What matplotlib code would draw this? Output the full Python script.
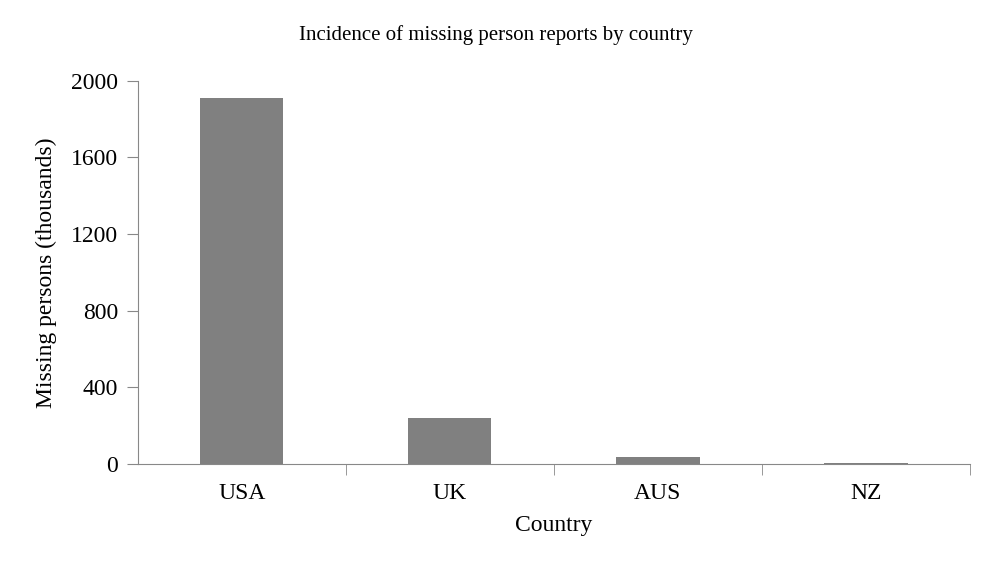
import matplotlib
matplotlib.use("Agg")
import matplotlib.pyplot as plt
import numpy as np

countries = ["USA", "UK", "AUS", "NZ"]
values = [1910, 240, 37, 6]
yticks = [0, 400, 800, 1200, 1600, 2000]

plt.rcParams['font.family'] = ['Liberation Serif', 'DejaVu Serif']
fig = plt.figure(figsize=(9.98, 5.77), dpi=100)
ax = fig.add_axes([0.138, 0.196, 0.834, 0.664])
x = np.arange(len(countries))
ax.bar(x, values, width=0.4, color="#808080")
ax.set_xlim(-0.5, len(countries) - 0.5)
ax.set_ylim(0, 2000)
ax.set_yticks(yticks)
ax.set_yticklabels([str(v) for v in yticks], fontsize=17)
ax.set_xticks(x)
ax.set_xticklabels(countries, fontsize=17)
ax.tick_params(axis='x', length=0, pad=14)
ax.set_xticks(np.arange(len(countries)) + 0.5, minor=True)
ax.tick_params(axis='x', which='minor', length=8, color="#888888")
ax.tick_params(axis='y', length=8, color="#888888", pad=6)
for s in ["top", "right"]:
    ax.spines[s].set_visible(False)
for s in ["left", "bottom"]:
    ax.spines[s].set_color("#888888")
ax.set_xlabel("Country", fontsize=17, labelpad=8)
ax.set_ylabel("Missing persons (thousands)", fontsize=17, labelpad=10)
fig.text(0.497, 0.93, "Incidence of missing person reports by country", ha="center", fontsize=15)
fig.savefig("out.png", dpi=100)
